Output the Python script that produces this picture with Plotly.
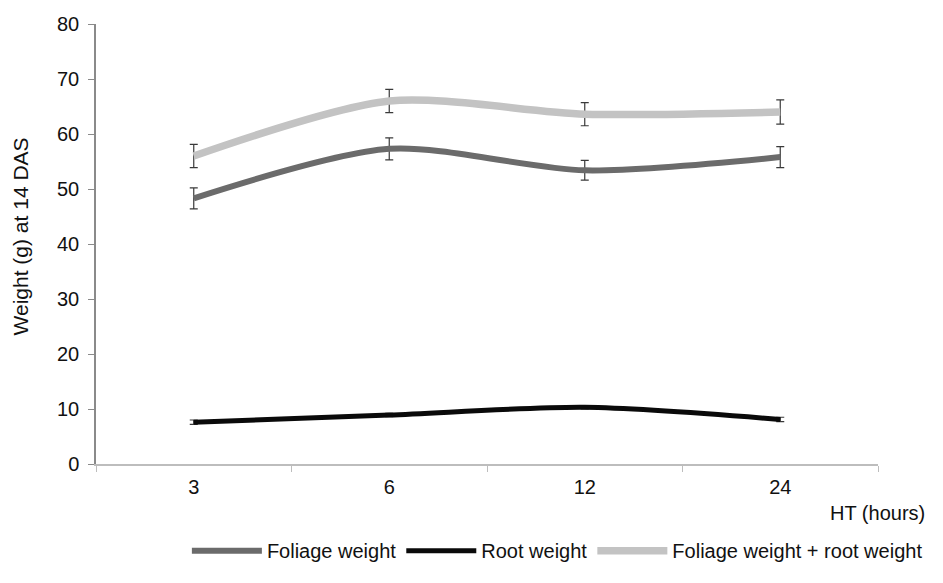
import plotly.graph_objects as go

categories = ["3", "6", "12", "24"]
foliage = [48.3, 57.3, 53.4, 55.8]
foliage_err = [1.9, 2.0, 1.8, 1.9]
root = [7.6, 8.9, 10.3, 8.1]
root_err = [0.4, 0.3, 0.3, 0.4]
total = [56.0, 66.0, 63.6, 64.0]
total_err = [2.1, 2.1, 2.1, 2.2]

font_family = "Liberation Sans, Arial, sans-serif"
FS = 20

fig = go.Figure()

def add(name, y, err, color, width):
    fig.add_trace(go.Scatter(
        x=categories, y=y, name=name, mode="lines",
        line=dict(color=color, width=width, shape="spline", smoothing=0.8),
        error_y=dict(type="data", array=err, visible=True, color="#3a3a3a",
                     thickness=1.2, width=4),
    ))

add("Foliage weight", foliage, foliage_err, "#6b6b6b", 6)
add("Root weight", root, root_err, "#0a0a0a", 5)
add("Foliage weight + root weight", total, total_err, "#c3c3c3", 7.5)

fig.update_layout(
    width=943, height=583,
    margin=dict(l=96, r=65, t=24, b=119),
    paper_bgcolor="white", plot_bgcolor="white",
    font=dict(family=font_family, size=FS, color="#111"),
    showlegend=True,
    legend=dict(orientation="h", x=0.59, xanchor="center", y=-0.197, yanchor="middle",
                font=dict(size=FS, color="#111"), itemwidth=70,
                traceorder="normal", bgcolor="rgba(0,0,0,0)"),
)

fig.update_xaxes(
    type="category", range=[-0.5, 3.5],
    showline=True, linecolor="#bdbdbd", linewidth=1.5,
    ticks="outside", tickson="boundaries", ticklen=6, tickcolor="#bdbdbd",
    showgrid=False, zeroline=False, ticklabelstandoff=4,
    tickfont=dict(size=FS, color="#111"),
)
fig.update_yaxes(
    range=[0, 80], tickvals=list(range(0, 81, 10)),
    showline=True, linecolor="#8a8a8a", linewidth=1.5,
    ticks="outside", ticklen=6, tickcolor="#8a8a8a",
    showgrid=False, zeroline=False, ticklabelstandoff=5,
    tickfont=dict(size=FS, color="#111"),
)

fig.add_annotation(
    text="Weight (g) at 14 DAS", xref="paper", yref="paper",
    x=-0.096, y=0.517, xanchor="center", yanchor="middle", textangle=-90,
    showarrow=False, font=dict(size=21, color="#111"),
)
fig.add_annotation(
    text="HT (hours)", xref="paper", yref="paper",
    x=1.063, y=-0.111, xanchor="right", yanchor="middle",
    showarrow=False, font=dict(size=FS, color="#111"),
)

fig.write_html("out.html")
